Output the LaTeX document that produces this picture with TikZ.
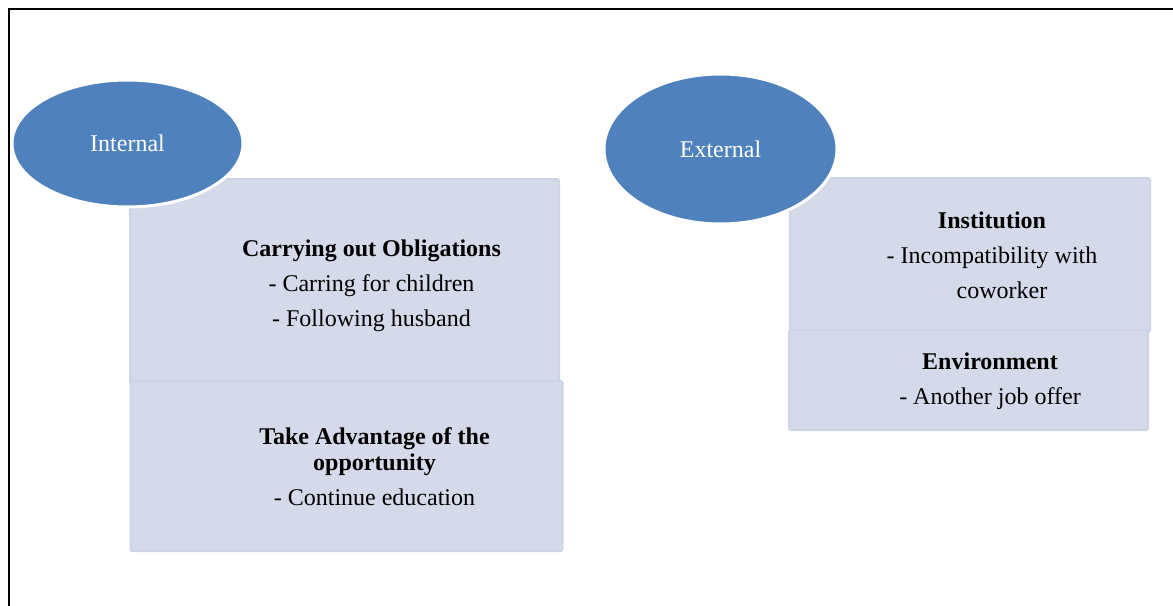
\documentclass[tikz,border=0pt]{standalone}
\usepackage{fontspec}
\setmainfont{Liberation Serif}
\usepackage{xcolor}
\usepackage{tikz}
\usetikzlibrary{shapes}
\usetikzlibrary{positioning}
\usetikzlibrary{calc}
\definecolor{ovalblue}{HTML}{4F81BD}
\definecolor{panelfill}{HTML}{D4DAE9}
\definecolor{panelline}{HTML}{CCD4E5}
\tikzstyle{oval}=[ellipse,fill=ovalblue,draw=white,line width=2.25pt,text=white,inner sep=0pt,font=\fontsize{18}{19.5}\selectfont]
\tikzstyle{panel}=[rectangle,fill=panelfill,draw=panelline,line width=1.5pt,rounded corners=1.5pt,inner sep=0pt]
\tikzset{txt/.style={align=center,inner sep=0pt,font=\fontsize{18}{19.5}\selectfont}}

\begin{document}
\begin{tikzpicture}[x=0.75pt,y=-0.75pt]

   \useasboundingbox (0,0) rectangle (1173,606);
   \draw[line width=1.1pt] (9,606) -- (9,9) -- (1173,9);

   % internal side
   \node[panel,minimum width=321.75pt,minimum height=153pt] (oblig) at (344.5,281) {};
   \node[panel,minimum width=324pt,minimum height=127.5pt] (advant) at (346.5,466) {};
   \node[txt] (obligtxt) at ($(oblig.center)+(27,5)$)
        {\textbf{Carrying out Obligations}\\[6.75pt] - Carring for children\\[6.75pt] - Following husband};
   \node[txt] (advanttxt) at ($(advant.center)+(28,1)$)
        {\textbf{Take Advantage of the}\\ \textbf{opportunity}\\[6.75pt] - Continue education};
   \node[oval,minimum width=173.25pt,minimum height=95.25pt] (internal) at (127.5,143.5) {Internal};

   % external side
   \node[panel,minimum width=270pt,minimum height=115.5pt] (inst) at (970,255) {};
   \node[panel,minimum width=269.25pt,minimum height=75pt] (envir) at (968.5,380) {};
   \node[txt] (insttxt) at ($(inst.center)+(22,0)$)
        {\textbf{Institution}\\[6.75pt] - Incompatibility with\\[6.75pt] \hspace*{15pt}coworker};
   \node[txt] (envirtxt) at ($(envir.center)+(21.5,1)$)
        {\textbf{Environment}\\[6.75pt] - Another job offer};
   \node[oval,minimum width=174.75pt,minimum height=112.5pt] (external) at (720.5,149) {External};

\end{tikzpicture}
\end{document}
